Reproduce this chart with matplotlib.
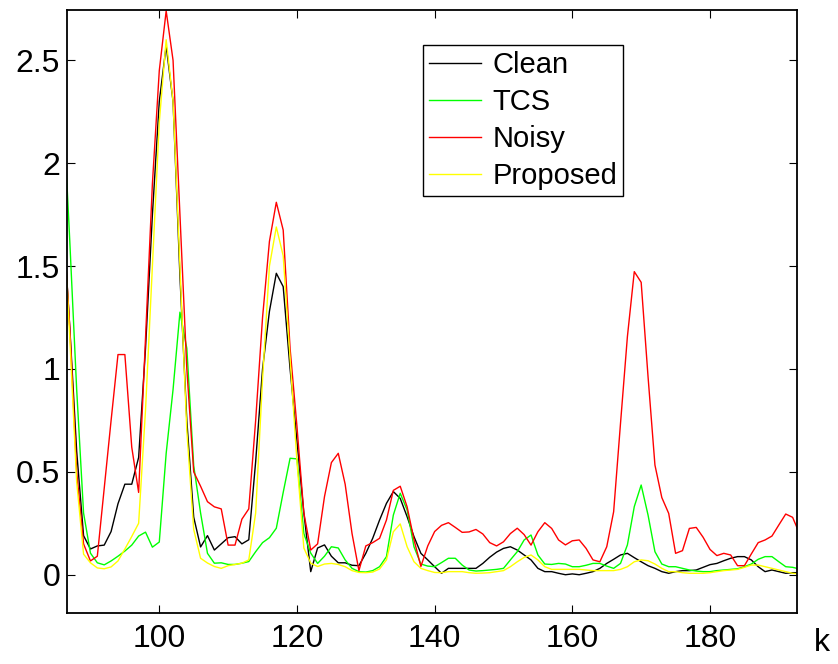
import numpy as np
import matplotlib
matplotlib.use("Agg")
import matplotlib.pyplot as plt

# bins k = 86 .. 193
k = np.arange(86, 194)

clean = [
    1.75, 1.2, 0.6, 0.19, 0.125, 0.14, 0.144, 0.21, 0.345, 0.44,
    0.44, 0.57, 1.1, 1.75, 2.3, 2.57, 2.3, 1.45, 0.75, 0.28,
    0.135, 0.19, 0.12, 0.15, 0.18, 0.185, 0.15, 0.17, 0.55, 1.0,
    1.28, 1.465, 1.40, 1.0, 0.65, 0.3, 0.015, 0.13, 0.145, 0.09,
    0.058, 0.058, 0.046, 0.044, 0.104, 0.177, 0.266, 0.347, 0.404, 0.371,
    0.282, 0.185, 0.104, 0.072, 0.039, 0.007, 0.031, 0.031, 0.031, 0.031,
    0.031, 0.055, 0.085, 0.11, 0.128, 0.136, 0.12, 0.096, 0.072, 0.031,
    0.015, 0.015, 0.007, 0.0, 0.004, 0.0, 0.007, 0.015, 0.031, 0.055,
    0.075, 0.096, 0.104, 0.083, 0.063, 0.044, 0.031, 0.015, 0.007, 0.015,
    0.02, 0.02, 0.023, 0.036, 0.049, 0.055, 0.068, 0.08, 0.088, 0.088,
    0.072, 0.039, 0.015, 0.023, 0.015, 0.007, 0.01, 0.01,
]
tcs = [
    2.3, 1.62, 0.9, 0.3, 0.105, 0.058, 0.048, 0.067, 0.09, 0.115,
    0.144, 0.188, 0.207, 0.134, 0.159, 0.59, 0.9, 1.276, 1.1, 0.53,
    0.3, 0.104, 0.056, 0.058, 0.05, 0.05, 0.056, 0.064, 0.112, 0.156,
    0.18, 0.226, 0.4, 0.566, 0.563, 0.2, 0.105, 0.055, 0.09, 0.136,
    0.13, 0.072, 0.031, 0.015, 0.013, 0.02, 0.039, 0.088, 0.29, 0.396,
    0.315, 0.136, 0.052, 0.042, 0.039, 0.059, 0.08, 0.08, 0.047, 0.023,
    0.018, 0.02, 0.023, 0.026, 0.031, 0.072, 0.112, 0.169, 0.193, 0.096,
    0.052, 0.05, 0.055, 0.052, 0.039, 0.039, 0.046, 0.055, 0.055, 0.042,
    0.031, 0.055, 0.145, 0.331, 0.436, 0.29, 0.112, 0.052, 0.039, 0.039,
    0.031, 0.023, 0.018, 0.015, 0.015, 0.02, 0.023, 0.026, 0.029, 0.039,
    0.052, 0.075, 0.088, 0.088, 0.063, 0.039, 0.036, 0.028,
]
noisy = [
    1.75, 1.2, 0.5, 0.15, 0.067, 0.09, 0.42, 0.75, 1.07, 1.07,
    0.62, 0.40, 1.15, 1.9, 2.45, 2.74, 2.5, 1.75, 1.0, 0.5,
    0.43, 0.355, 0.33, 0.32, 0.144, 0.144, 0.27, 0.32, 0.75, 1.25,
    1.62, 1.81, 1.675, 1.1, 0.72, 0.3, 0.12, 0.15, 0.38, 0.545,
    0.59, 0.44, 0.2, 0.02, 0.14, 0.156, 0.177, 0.266, 0.41, 0.43,
    0.33, 0.17, 0.04, 0.14, 0.21, 0.24, 0.253, 0.23, 0.206, 0.208,
    0.22, 0.198, 0.156, 0.14, 0.16, 0.2, 0.226, 0.195, 0.144, 0.209,
    0.253, 0.225, 0.169, 0.145, 0.165, 0.169, 0.128, 0.072, 0.063, 0.136,
    0.306, 0.736, 1.157, 1.473, 1.421, 0.962, 0.533, 0.375, 0.298, 0.104,
    0.117, 0.225, 0.23, 0.182, 0.123, 0.093, 0.104, 0.096, 0.044, 0.044,
    0.101, 0.156, 0.169, 0.188, 0.242, 0.295, 0.279, 0.2,
]
proposed = [
    1.8, 1.15, 0.45, 0.1, 0.058, 0.033, 0.029, 0.038, 0.067, 0.125,
    0.186, 0.25, 0.8, 1.5, 2.2, 2.6, 2.3, 1.5, 0.7, 0.22,
    0.08, 0.057, 0.04, 0.031, 0.044, 0.05, 0.056, 0.072, 0.3, 0.95,
    1.5, 1.69, 1.55, 1.05, 0.55, 0.13, 0.056, 0.04, 0.052, 0.055,
    0.05, 0.039, 0.02, 0.011, 0.01, 0.013, 0.028, 0.072, 0.209, 0.247,
    0.136, 0.063, 0.031, 0.02, 0.011, 0.01, 0.015, 0.015, 0.015, 0.01,
    0.007, 0.008, 0.01, 0.015, 0.02, 0.039, 0.063, 0.084, 0.096, 0.072,
    0.039, 0.026, 0.026, 0.026, 0.026, 0.026, 0.023, 0.02, 0.02, 0.02,
    0.02, 0.026, 0.039, 0.063, 0.072, 0.068, 0.052, 0.031, 0.015, 0.015,
    0.01, 0.007, 0.007, 0.007, 0.01, 0.015, 0.02, 0.023, 0.026, 0.036,
    0.047, 0.047, 0.039, 0.031, 0.023, 0.015, 0.007, 0.004,
]

plt.rcParams['font.family'] = ['Liberation Sans', 'DejaVu Sans']

fig = plt.figure(figsize=(8.38, 6.64), dpi=100)
ax = fig.add_axes([0.0800, 0.0768, 0.8711, 0.9086])

ax.plot(k, clean, color='black', lw=1.0, label='Clean')
ax.plot(k, tcs, color='#00ff00', lw=1.0, label='TCS')
ax.plot(k, noisy, color='#ff0000', lw=1.0, label='Noisy')
ax.plot(k, proposed, color='#ffff00', lw=1.0, label='Proposed')

ax.set_xlim(86.6, 192.64)
ax.set_ylim(-0.186, 2.746)
ax.set_xticks([100, 120, 140, 160, 180])
ax.set_yticks([0, 0.5, 1, 1.5, 2, 2.5])
ax.set_yticklabels(['0', '0.5', '1', '1.5', '2', '2.5'])
ax.tick_params(direction='in', length=6, width=0.8, labelsize=23,
               top=True, right=True, pad=5)
ax.tick_params(axis='x', pad=8)
for s in ax.spines.values():
    s.set_linewidth(1.3)

# legend box sits at about (423, 45) px in the figure
leg = ax.legend(loc='upper left', bbox_to_anchor=(0.4877, 0.9415),
                borderaxespad=0, fontsize=21, handlelength=1.78,
                handletextpad=0.41, labelspacing=0.31, borderpad=0.2,
                fancybox=False, framealpha=1, edgecolor='black')
leg.get_frame().set_linewidth(1.0)

fig.text(822 / 838, 1 - 643 / 664, 'k', fontsize=23, ha='center', va='center')

fig.savefig('out.png', dpi=100)
